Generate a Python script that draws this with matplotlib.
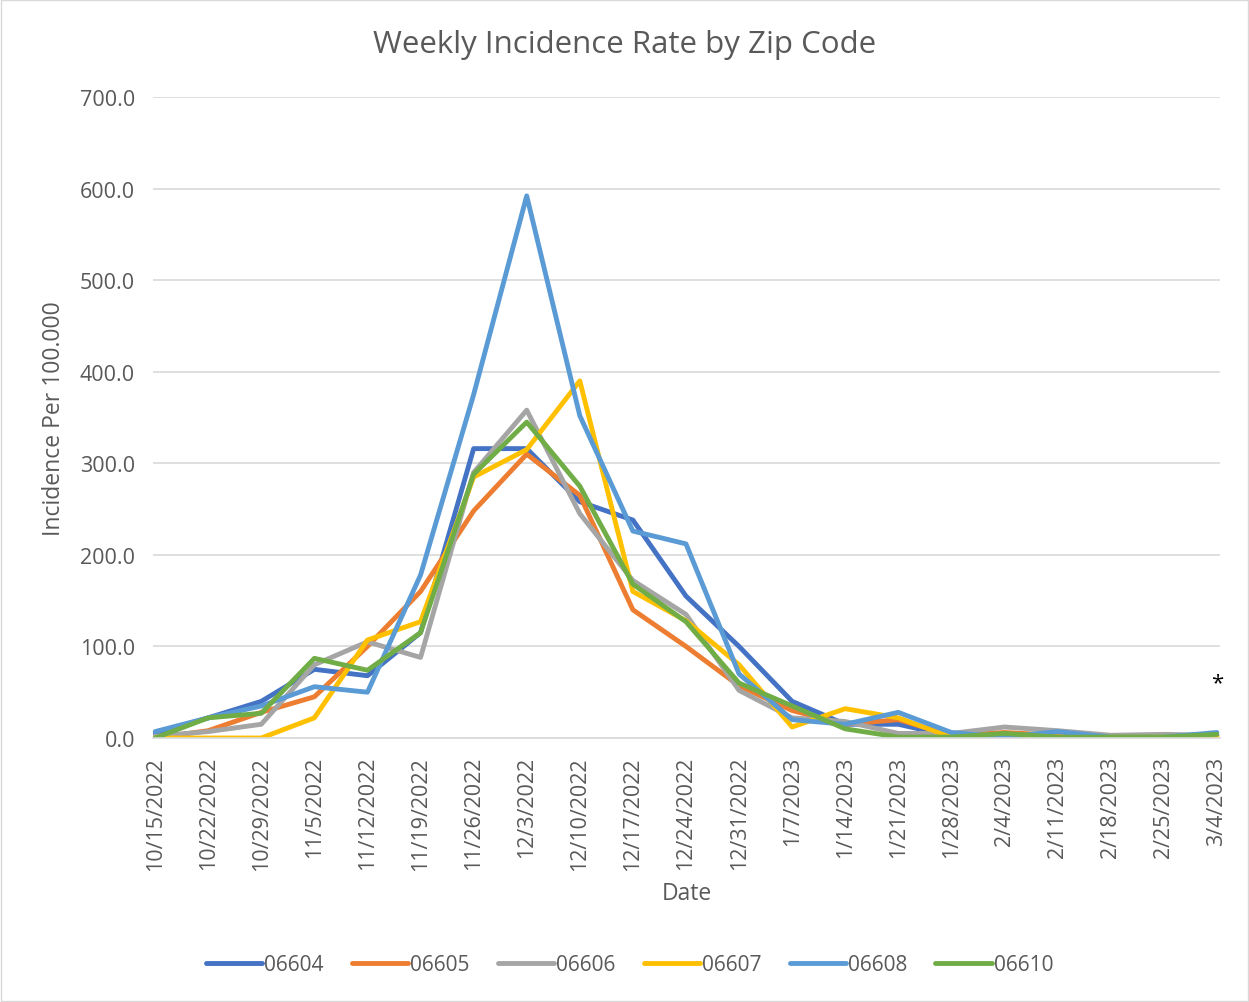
import matplotlib
matplotlib.use("Agg")
import matplotlib.pyplot as plt
from matplotlib.patches import Rectangle

dates = ["10/15/2022", "10/22/2022", "10/29/2022", "11/5/2022", "11/12/2022", "11/19/2022",
         "11/26/2022", "12/3/2022", "12/10/2022", "12/17/2022", "12/24/2022", "12/31/2022",
         "1/7/2023", "1/14/2023", "1/21/2023", "1/28/2023", "2/4/2023", "2/11/2023",
         "2/18/2023", "2/25/2023", "3/4/2023"]

z06604 = [5, 22, 40, 75, 68, 115, 316, 316, 258, 238, 155, 100, 40, 15, 15, 2, 5, 2, 1, 1, 3]
z06605 = [0, 8, 28, 45, 100, 160, 248, 310, 265, 140, 100, 57, 30, 15, 20, 3, 6, 3, 1, 1, 2]
z06606 = [2, 7, 15, 80, 105, 88, 290, 358, 245, 172, 135, 52, 22, 18, 5, 5, 12, 8, 3, 4, 3]
z06607 = [0, 0, 0, 22, 107, 127, 285, 315, 390, 160, 128, 80, 12, 32, 22, 1, 1, 1, 1, 1, 1]
z06608 = [7, 22, 35, 56, 50, 178, 375, 592, 352, 226, 212, 70, 20, 15, 28, 6, 1, 7, 1, 1, 6]
z06610 = [0, 22, 27, 87, 74, 115, 288, 345, 275, 168, 127, 60, 35, 10, 1, 1, 5, 1, 1, 1, 4]

series = [("06604", z06604, "#4472C4"), ("06605", z06605, "#ED7D31"),
          ("06606", z06606, "#A5A5A5"), ("06607", z06607, "#FFC000"),
          ("06608", z06608, "#5B9BD5"), ("06610", z06610, "#70AD47")]

yticks = [0, 100, 200, 300, 400, 500, 600, 700]

plt.rcParams['font.family'] = ['Open Sans', 'DejaVu Sans']
txt = "#595959"

fig = plt.figure(figsize=(12.49, 10.03), dpi=100)
fig.patches.append(Rectangle((0.0005, 0.0005), 0.999, 0.999, transform=fig.transFigure,
                             fill=False, edgecolor="#D9D9D9", linewidth=1))
ax = fig.add_axes([153/1249, 1 - 739/1003, (1220-153)/1249, (739-98)/1003])

x = list(range(len(dates)))
for name, vals, col in series:
    ax.plot(x, vals, color=col, linewidth=3.5, label=name, solid_capstyle='round')

ax.set_xlim(-0.04, 20.06)
ax.set_ylim(0, 700)
ax.set_yticks(yticks)
ax.set_yticklabels([f"{v:.1f}" for v in yticks], fontsize=15.5, color=txt)
ax.set_xticks(x)
ax.set_xticklabels(dates, rotation=90, fontsize=15.5, color=txt)
ax.tick_params(axis='y', length=0, pad=13)
ax.tick_params(axis='x', length=0, pad=13)
ax.grid(axis='y', color="#D9D9D9", linewidth=1.2)
ax.set_axisbelow(True)
for s in ['top', 'right', 'left']:
    ax.spines[s].set_visible(False)
ax.spines['bottom'].set_color("#D9D9D9")
ax.spines['bottom'].set_linewidth(1.2)

fig.text(0.5, 1 - 45/1003, "Weekly Incidence Rate by Zip Code", fontsize=22.5, color=txt,
         ha='center', va='center')
ax.set_ylabel("Incidence Per 100.000", fontsize=16.5, color=txt, labelpad=10)
ax.set_xlabel("Date", fontsize=16.5, color=txt, labelpad=8)

ax.text(20, 60, "*", ha='center', va='center', fontsize=16, color="black")

leg = fig.legend(loc='center', bbox_to_anchor=(0.504, 1 - 966/1003), ncol=6, frameon=False,
                 fontsize=15, handlelength=2.7, handletextpad=0.1, columnspacing=1.35)
for t in leg.get_texts():
    t.set_color(txt)

fig.savefig("out.png", dpi=100)
